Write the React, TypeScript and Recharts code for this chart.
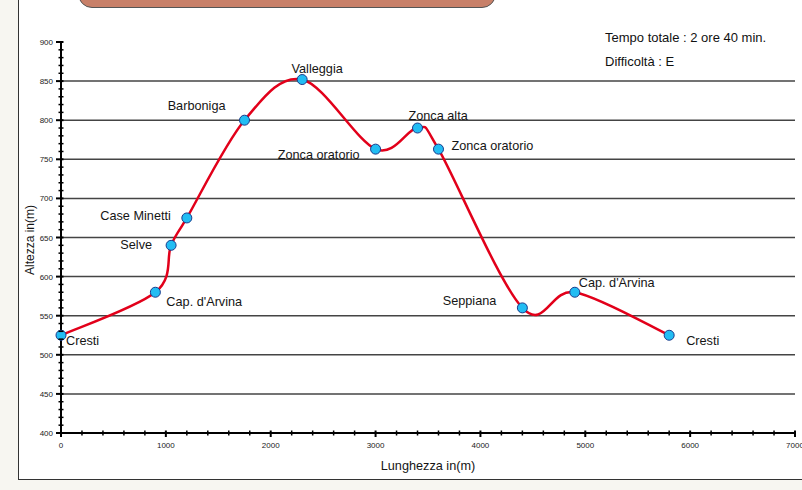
import React from "react";
import { LineChart, Line, XAxis, YAxis, CartesianGrid, LabelList } from "recharts";

// Percorso: distanza (m) e quota (m) dei punti
const distances = [0, 900, 1050, 1200, 1750, 2300, 3000, 3400, 3600, 4400, 4900, 5800];
const altitudes = [525, 580, 640, 675, 800, 852, 763, 790, 763, 560, 580, 525];
const places = [
  "Cresti",
  "Cap. d'Arvina",
  "Selve",
  "Case Minetti",
  "Barboniga",
  "Valleggia",
  "Zonca oratorio",
  "Zonca alta",
  "Zonca oratorio",
  "Seppiana",
  "Cap. d'Arvina",
  "Cresti",
];

const yMajor = [400, 450, 500, 550, 600, 650, 700, 750, 800, 850, 900];
const xMajor = [0, 1000, 2000, 3000, 4000, 5000, 6000, 7000];
const gridValues = [450, 500, 550, 600, 650, 700, 750, 800, 850];

const yTicks: number[] = [];
for (let v = 400; v <= 900; v += 10) yTicks.push(v);
const xTicks: number[] = [];
for (let v = 0; v <= 7000; v += 200) xTicks.push(v);

const data = distances.map((d, i) => ({ dist: d, alt: altitudes[i], name: places[i] }));

// label placement relative to the marker: [dx, dy, anchor]
const labelPlacement: [number, number, string][] = [
  [5, 6, "start"],
  [11, 10, "start"],
  [-19, 0, "end"],
  [-16, -2, "end"],
  [-19, -14, "end"],
  [15, -11, "middle"],
  [-16, 6, "end"],
  [-9, -12, "start"],
  [13, -3, "start"],
  [-26, -7, "end"],
  [4, -9, "start"],
  [17, 6, "start"],
];

const FONT = "'Liberation Sans', Arial, sans-serif";

// smooth line through the points (Catmull-Rom as Bezier)
function smoothCurve(context: any) {
  let pts: [number, number][] = [];
  return {
    areaStart() {},
    areaEnd() {},
    lineStart() {
      pts = [];
    },
    point(x: number, y: number) {
      pts.push([+x, +y]);
    },
    lineEnd() {
      if (!pts.length) return;
      context.moveTo(pts[0][0], pts[0][1]);
      for (let i = 0; i < pts.length - 1; i++) {
        const p0 = pts[i - 1] || pts[i];
        const p1 = pts[i];
        const p2 = pts[i + 1];
        const p3 = pts[i + 2] || p2;
        context.bezierCurveTo(
          p1[0] + (p2[0] - p0[0]) / 6,
          p1[1] + (p2[1] - p0[1]) / 6,
          p2[0] - (p3[0] - p1[0]) / 6,
          p2[1] - (p3[1] - p1[1]) / 6,
          p2[0],
          p2[1]
        );
      }
    },
  };
}

function YTick(props: any) {
  const { x, y, payload } = props;
  const major = yMajor.includes(payload.value);
  return (
    <g>
      <line x1={major ? x - 5 : x - 2.5} x2={x + 2.5} y1={y} y2={y} stroke="#000" strokeWidth={major ? 2 : 1.5} />
      {major && (
        <text x={x - 8} y={y} dy={3} textAnchor="end" fontSize={8} fill="#222" fontFamily={FONT}>
          {payload.value}
        </text>
      )}
    </g>
  );
}

function XTick(props: any) {
  const { x, y, payload } = props;
  const major = xMajor.includes(payload.value);
  return (
    <g>
      <line x1={x} x2={x} y1={y - 2.5} y2={major ? y + 4 : y + 2.5} stroke="#000" strokeWidth={major ? 2 : 1.5} />
      {major && (
        <text x={x} y={y + 15} textAnchor="middle" fontSize={8} fill="#222" fontFamily={FONT}>
          {payload.value}
        </text>
      )}
    </g>
  );
}

function PlaceLabel(props: any) {
  const { x, y, index, value } = props;
  const [dx, dy, anchor] = labelPlacement[index];
  return (
    <text
      x={x + dx}
      y={y + dy}
      dominantBaseline="central"
      textAnchor={anchor}
      fontSize={12.7}
      fill="#151515"
      fontFamily={FONT}
    >
      {value}
    </text>
  );
}

export default function App() {
  return (
    <div style={{ position: "fixed", left: 0, top: 0, width: 802, height: 490, background: "#f7f6f1", overflow: "hidden" }}>
      <div
        style={{
          position: "absolute",
          left: 18,
          top: -10,
          width: 820,
          height: 490,
          background: "#fff",
          border: "1.5px solid #333",
          boxSizing: "border-box",
        }}
      />
      <div
        style={{
          position: "absolute",
          left: 78,
          top: -22,
          width: 418,
          height: 30,
          borderRadius: 14,
          background: "#c88069",
          border: "1px solid #555",
          boxSizing: "border-box",
        }}
      />
      <div style={{ position: "absolute", left: 605, top: 30, fontFamily: FONT, fontSize: 13, color: "#111" }}>
        Tempo totale : 2 ore 40 min.
      </div>
      <div style={{ position: "absolute", left: 605, top: 54, fontFamily: FONT, fontSize: 13, color: "#111" }}>
        Difficoltà : E
      </div>
      <div style={{ position: "absolute", left: 0, top: 0 }}>
        <LineChart width={802} height={490} data={data} margin={{ top: 42, right: 7, bottom: 0, left: 0 }}>
          <CartesianGrid vertical={false} horizontalValues={gridValues} stroke="#444" strokeWidth={1.5} />
          <XAxis
            dataKey="dist"
            type="number"
            domain={[0, 7000]}
            ticks={xTicks}
            interval={0}
            height={57}
            tickLine={false}
            tickSize={0}
            tickMargin={0}
            tick={<XTick />}
            axisLine={{ stroke: "#000", strokeWidth: 2 }}
            label={{
              value: "Lunghezza in(m)",
              position: "insideBottom",
              offset: 20,
              fontSize: 12.7,
              fill: "#151515",
              fontFamily: FONT,
            }}
          />
          <YAxis
            type="number"
            domain={[400, 900]}
            ticks={yTicks}
            interval={0}
            width={61}
            tickLine={false}
            tickSize={0}
            tickMargin={0}
            tick={<YTick />}
            axisLine={{ stroke: "#000", strokeWidth: 2 }}
            label={() => (
              <text
                x={30}
                y={240}
                transform="rotate(-90 30 240)"
                textAnchor="middle"
                dominantBaseline="central"
                fontSize={12}
                fill="#151515"
                fontFamily={FONT}
              >
                Altezza in(m)
              </text>
            )}
          />
          <Line
            dataKey="alt"
            type={smoothCurve as any}
            stroke="#e2001a"
            strokeWidth={2.5}
            dot={{ r: 5, fill: "#22bdf3", stroke: "#1a3b8c", strokeWidth: 1 }}
            isAnimationActive={false}
          >
            <LabelList dataKey="name" content={<PlaceLabel />} />
          </Line>
        </LineChart>
      </div>
    </div>
  );
}
